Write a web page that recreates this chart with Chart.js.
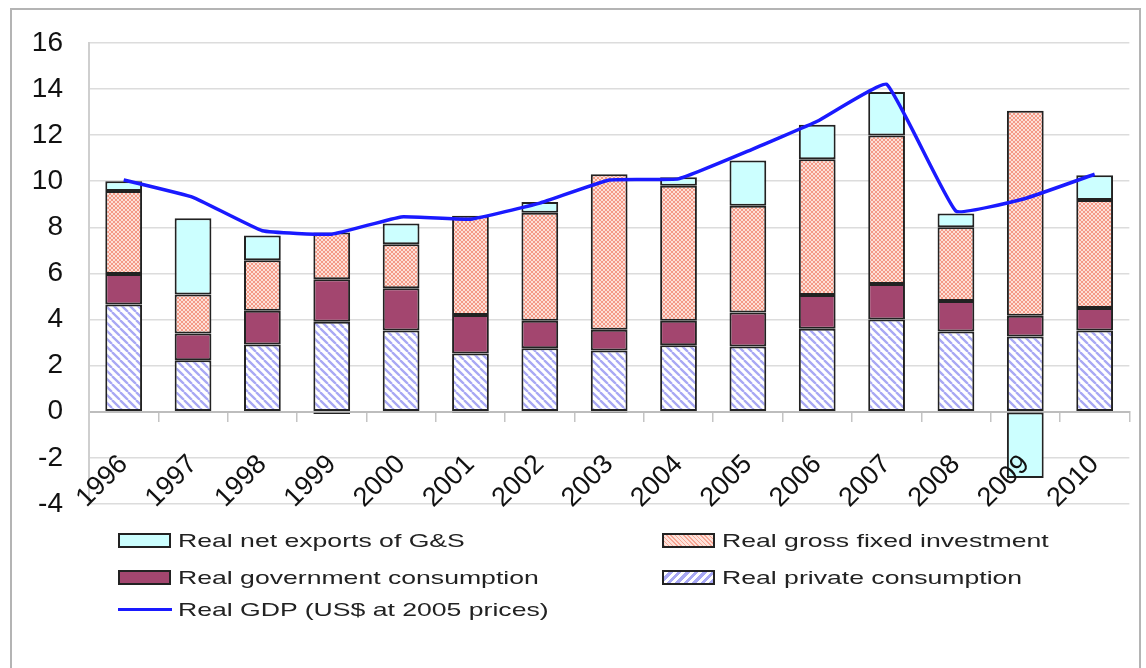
<!DOCTYPE html>
<html>
<head>
<meta charset="utf-8">
<script src="https://cdn.jsdelivr.net/npm/chart.js@4.4.1/dist/chart.umd.min.js"></script>
<style>
  body { margin: 0; background: #fff; font-family: "Liberation Sans", Arial, sans-serif; }
  #wrap { position: relative; width: 1146px; height: 668px; overflow: hidden; }
  #frame { position: absolute; left: 10px; top: 8px; width: 1131px; height: 700px; border: 2px solid #b4b4b4; box-sizing: border-box; }
  #box { position: absolute; left: 0; top: 0; width: 1146px; height: 668px; }
  .item { position: absolute; height: 24px; }
  .sw { position: absolute; left: 0; top: 4px; width: 53px; height: 15px; border: 2px solid #222; box-sizing: border-box; }
  .ln { position: absolute; left: 0; top: 10px; width: 54px; height: 3px; background: #1a1aff; }
  .tx { position: absolute; left: 60px; top: 0; font-size: 19px; line-height: 24px; color: #222; white-space: nowrap; transform: scaleX(1.4); transform-origin: 0 50%; }
</style>
</head>
<body>
<div id="wrap">
  <div id="frame"></div>
  <div id="box"><canvas id="chart"></canvas></div>
  <div class="item" style="left:118px;top:529px"><div class="sw" style="background:#ccffff"></div><div class="tx">Real net exports of G&amp;S</div></div>
  <div class="item" style="left:662px;top:529px"><div class="sw" style="background:repeating-linear-gradient(45deg,#f7a594 0 1px,#fde2da 1px 3px)"></div><div class="tx">Real gross fixed investment</div></div>
  <div class="item" style="left:118px;top:566px"><div class="sw" style="background:#a3466f"></div><div class="tx">Real government consumption</div></div>
  <div class="item" style="left:662px;top:566px"><div class="sw" style="background:repeating-linear-gradient(-45deg,#a8a8f4 0 3px,#ffffff 3px 6px)"></div><div class="tx">Real private consumption</div></div>
  <div class="item" style="left:118px;top:598px"><div class="ln"></div><div class="tx">Real GDP (US$ at 2005 prices)</div></div>
</div>
<script>
const years = ['1996','1997','1998','1999','2000','2001','2002','2003','2004','2005','2006','2007','2008','2009','2010'];
const privateCons = [4.65, 2.23, 2.92, 3.9, 3.52, 2.53, 2.75, 2.66, 2.88, 2.83, 3.6, 4.0, 3.48, 3.26, 3.52];
const govCons = [1.32, 1.16, 1.46, 1.85, 1.84, 1.67, 1.2, 0.9, 1.07, 1.47, 1.46, 1.54, 1.32, 0.9, 0.98];
const investment = [3.6, 1.7, 2.19, 2.02, 1.9, 4.3, 4.68, 6.74, 5.85, 4.63, 5.89, 6.44, 3.2, 8.89, 4.68];
const netExports = [0.43, 3.3, 1.07, -0.1, 0.9, -0.05, 0.47, -0.05, 0.37, 1.97, 1.5, 1.89, 0.6, -2.87, 1.08];
const gdp = [10.05, 9.3, 7.85, 7.7, 8.45, 8.35, 9.05, 10.05, 10.1, 11.3, 12.6, 14.2, 8.7, 9.25, 10.3];
const yTicks = [-4, -2, 0, 2, 4, 6, 8, 10, 12, 14, 16];

// hatch fills for the bars
function stripes() {
    const c = document.createElement('canvas');
    c.width = 8; c.height = 8;
    const g = c.getContext('2d');
    g.fillStyle = '#fff';
    g.fillRect(0, 0, 8, 8);
    g.strokeStyle = '#a8a8f4';
    g.lineWidth = 2.3;
    g.beginPath();
    for (const o of [-8, 0, 8]) { g.moveTo(o, 0); g.lineTo(o + 8, 8); }
    g.stroke();
    return g.createPattern(c, 'repeat');
}
function crosshatch() {
    const c = document.createElement('canvas');
    c.width = 4; c.height = 4;
    const g = c.getContext('2d');
    g.fillStyle = '#fde0d8';
    g.fillRect(0, 0, 4, 4);
    g.fillStyle = '#f49a87';
    for (let i = 0; i < 4; i++) { g.fillRect(i, i, 1, 1); g.fillRect(3 - i, i, 1, 1); }
    return g.createPattern(c, 'repeat');
}

const barStyle = { borderColor: '#222', borderWidth: 2, borderSkipped: false, barPercentage: 0.53, categoryPercentage: 1, stack: 'gdp', order: 1 };

new Chart(document.getElementById('chart').getContext('2d'), {
    type: 'bar',
    data: {
        labels: years,
        datasets: [
            Object.assign({ label: 'Real private consumption', data: privateCons, backgroundColor: stripes() }, barStyle),
            Object.assign({ label: 'Real government consumption', data: govCons, backgroundColor: '#a3466f' }, barStyle),
            Object.assign({ label: 'Real gross fixed investment', data: investment, backgroundColor: crosshatch() }, barStyle),
            Object.assign({ label: 'Real net exports of G&S', data: netExports, backgroundColor: '#ccffff' }, barStyle),
            {
                type: 'line',
                label: 'Real GDP (US$ at 2005 prices)',
                data: gdp,
                borderColor: '#1a1aff',
                borderWidth: 3.5,
                pointRadius: 0,
                tension: 0.1,
                stack: 'line',
                order: 0
            }
        ]
    },
    options: {
        responsive: true,
        maintainAspectRatio: false,
        animation: false,
        layout: { padding: { left: 10, right: 13, top: 38, bottom: 164 } },
        plugins: { legend: { display: false }, tooltip: { enabled: false } },
        scales: {
            x: {
                stacked: true,
                position: { y: 0 },
                grid: { display: true, drawOnChartArea: false, drawTicks: true, tickLength: 9, color: '#c4c4c4', lineWidth: 1.5, offset: true },
                border: { display: true, color: '#bdbdbd', width: 2 },
                ticks: { minRotation: 45, maxRotation: 45, padding: 28, z: 1, color: '#111', font: { family: 'Liberation Sans', size: 27 } }
            },
            y: {
                stacked: true,
                min: -4,
                max: 16,
                afterFit: function(scale) { scale.width = 79; },
                afterBuildTicks: function(scale) { scale.ticks = yTicks.map(v => ({ value: v })); },
                grid: { color: '#dcdcdc', lineWidth: 1.5, drawTicks: false },
                border: { display: true, color: '#cfcfcf', width: 2 },
                ticks: { padding: 26, color: '#111', font: { family: 'Liberation Sans', size: 28 } }
            }
        }
    }
});
</script>
</body>
</html>
